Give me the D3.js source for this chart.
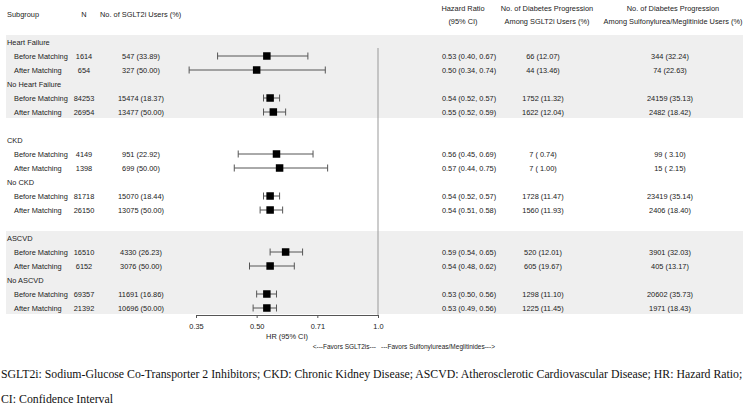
<!DOCTYPE html>
<html>
<head>
<meta charset="utf-8">
<script src="https://cdn.jsdelivr.net/npm/d3@7"></script>
<style>
  body { margin: 0; background: #fff; }
  svg text { font-family: "Liberation Sans", Arial, sans-serif; font-size: 7.4px; fill: #222; }
  svg text.foot { font-family: "Liberation Serif", "Times New Roman", serif; font-size: 11.8px; fill: #111; }
</style>
</head>
<body>
<div id="forest"></div>
<script>
// data uit de tabel
var subgroups = ["Heart Failure", "No Heart Failure", "CKD", "No CKD", "ASCVD", "No ASCVD"];
var phases = ["Before Matching", "After Matching"];
var nTotal = [1614, 654, 84253, 26954, 4149, 1398, 81718, 26150, 16510, 6152, 69357, 21392];
var sgltUsers = [547, 327, 15474, 13477, 951, 699, 15070, 13075, 4330, 3076, 11691, 10696];
var sgltPct = [33.89, 50.00, 18.37, 50.00, 22.92, 50.00, 18.44, 50.00, 26.23, 50.00, 16.86, 50.00];
var hr = [0.53, 0.50, 0.54, 0.55, 0.56, 0.57, 0.54, 0.54, 0.59, 0.54, 0.53, 0.53];
var hrLow = [0.40, 0.34, 0.52, 0.52, 0.45, 0.44, 0.52, 0.51, 0.54, 0.48, 0.50, 0.49];
var hrHigh = [0.67, 0.74, 0.57, 0.59, 0.69, 0.75, 0.57, 0.58, 0.65, 0.62, 0.56, 0.56];
var progSglt = [66, 44, 1752, 1622, 7, 7, 1728, 1560, 520, 605, 1298, 1225];
var progSgltPct = [12.07, 13.46, 11.32, 12.04, 0.74, 1.00, 11.47, 11.93, 12.01, 19.67, 11.10, 11.45];
var progSu = [344, 74, 24159, 2482, 99, 15, 23419, 2406, 3901, 405, 20602, 1971];
var progSuPct = [32.24, 22.63, 35.13, 18.42, 3.10, 2.15, 35.14, 18.40, 32.03, 13.17, 35.73, 18.43];
var tickValues = [0.3536, 0.5, 0.7071, 1.0];
var tickLabels = ["0.35", "0.50", "0.71", "1.0"];

const width = 753, height = 406;

// "n (pct)" met spatie bij percentages onder de 10
function fmt(n, p) {
  var s = p.toFixed(2);
  return n + " (" + (p < 10 ? " " : "") + s + ")";
}

// rij-index van elke subgroep kop (lege rij tussen de blokken)
function headerIndex(g) { return g * 3 + Math.floor(g / 2); }

var y = d3.scaleLinear().domain([0, 19]).range([42, 308]);
var x = d3.scaleLog().base(2).domain([0.3536, 1.0]).range([196, 378]);

var svg = d3.select("#forest")
    .append("svg")
    .attr("width", width)
    .attr("height", height);

// grijze banden (eerste en laatste blok)
[0, 4].forEach(function(g) {
  var top = y(headerIndex(g)) - 7;
  var bottom = y(headerIndex(g + 1) + 2) + 6;
  svg.append("rect")
      .attr("x", 6).attr("y", top)
      .attr("width", 737).attr("height", bottom - top)
      .attr("fill", "#efefef");
});

// kolomkoppen
svg.append("text").attr("x", 7).attr("y", 14).attr("dy", "0.35em").text("Subgroup");
svg.append("text").attr("x", 84).attr("y", 14).attr("dy", "0.35em").attr("text-anchor", "middle").text("N");
svg.append("text").attr("x", 100).attr("y", 14).attr("dy", "0.35em").text("No. of SGLT2i Users (%)");
var heads = [
  [463, "Hazard Ratio", "(95% CI)"],
  [547, "No. of Diabetes Progression", "Among SGLT2i Users (%)"],
  [673, "No. of Diabetes Progression", "Among Sulfonylurea/Meglitinide Users (%)"]
];
heads.forEach(function(h) {
  svg.append("text").attr("x", h[0]).attr("y", 8).attr("dy", "0.35em").attr("text-anchor", "middle").text(h[1]);
  svg.append("text").attr("x", h[0]).attr("y", 21).attr("dy", "0.35em").attr("text-anchor", "middle").text(h[2]);
});

// referentielijn bij HR = 1
svg.append("line")
    .attr("x1", x(1)).attr("x2", x(1))
    .attr("y1", 48).attr("y2", 315)
    .attr("stroke", "#999").attr("stroke-width", 1);

// rijen opbouwen
var rows = [];
subgroups.forEach(function(s, g) {
  svg.append("text").attr("x", 7).attr("y", y(headerIndex(g))).attr("dy", "0.35em").text(s);
  phases.forEach(function(p, k) {
    var i = g * 2 + k;
    rows.push({ i: i, label: p, yi: headerIndex(g) + 1 + k });
  });
});

var row = svg.selectAll(".row")
    .data(rows)
    .enter()
    .append("g")
    .attr("class", "row")
    .attr("transform", function(d) { return "translate(0," + y(d.yi) + ")"; });

row.append("text").attr("x", 14).attr("dy", "0.35em").text(function(d) { return d.label; });
row.append("text").attr("x", 84).attr("dy", "0.35em").attr("text-anchor", "middle")
    .text(function(d) { return nTotal[d.i]; });
row.append("text").attr("x", 141).attr("dy", "0.35em").attr("text-anchor", "middle")
    .text(function(d) { return fmt(sgltUsers[d.i], sgltPct[d.i]); });
row.append("text").attr("x", 469).attr("dy", "0.35em").attr("text-anchor", "middle")
    .text(function(d) { return hr[d.i].toFixed(2) + " (" + hrLow[d.i].toFixed(2) + ", " + hrHigh[d.i].toFixed(2) + ")"; });
row.append("text").attr("x", 543).attr("dy", "0.35em").attr("text-anchor", "middle")
    .text(function(d) { return fmt(progSglt[d.i], progSgltPct[d.i]); });
row.append("text").attr("x", 670).attr("dy", "0.35em").attr("text-anchor", "middle")
    .text(function(d) { return fmt(progSu[d.i], progSuPct[d.i]); });

// betrouwbaarheidsintervallen
row.append("line")
    .attr("x1", function(d) { return x(hrLow[d.i]); })
    .attr("x2", function(d) { return x(hrHigh[d.i]); })
    .attr("stroke", "#555").attr("stroke-width", 1);
row.append("line")
    .attr("x1", function(d) { return x(hrLow[d.i]); })
    .attr("x2", function(d) { return x(hrLow[d.i]); })
    .attr("y1", -3.5).attr("y2", 3.5)
    .attr("stroke", "#555").attr("stroke-width", 1);
row.append("line")
    .attr("x1", function(d) { return x(hrHigh[d.i]); })
    .attr("x2", function(d) { return x(hrHigh[d.i]); })
    .attr("y1", -3.5).attr("y2", 3.5)
    .attr("stroke", "#555").attr("stroke-width", 1);
row.append("rect")
    .attr("x", function(d) { return x(hr[d.i]) - 3.75; })
    .attr("y", -3.75)
    .attr("width", 7.5).attr("height", 7.5)
    .attr("fill", "#000");

// x-as
var axis = svg.append("g")
    .attr("transform", "translate(0,315)")
    .call(d3.axisBottom(x)
      .tickValues(tickValues)
      .tickFormat(function(d, i) { return tickLabels[i]; })
      .tickSize(3)
      .tickPadding(6));
axis.select(".domain").attr("stroke", "#555");
axis.selectAll(".tick line").attr("stroke", "#555");
axis.selectAll("text").attr("font-family", null).attr("font-size", null).attr("fill", null);

svg.append("text").attr("x", 287).attr("y", 336).attr("dy", "0.35em").attr("text-anchor", "middle").text("HR (95% CI)");
svg.append("text").attr("x", 376).attr("y", 347).attr("dy", "0.35em").attr("text-anchor", "end").style("font-size", "6.5px").text("<---Favors SGLT2is---");
svg.append("text").attr("x", 381).attr("y", 347).attr("dy", "0.35em").style("font-size", "6.5px").text("---Favors Sulfonylureas/Meglitinides--->");

// voetnoot
svg.append("text").attr("class", "foot").attr("x", 1).attr("y", 374).attr("dy", "0.35em")
    .text("SGLT2i: Sodium-Glucose Co-Transporter 2 Inhibitors; CKD: Chronic Kidney Disease; ASCVD: Atherosclerotic Cardiovascular Disease; HR: Hazard Ratio;");
svg.append("text").attr("class", "foot").attr("x", 1).attr("y", 399).attr("dy", "0.35em")
    .text("CI: Confidence Interval");
</script>
</body>
</html>
